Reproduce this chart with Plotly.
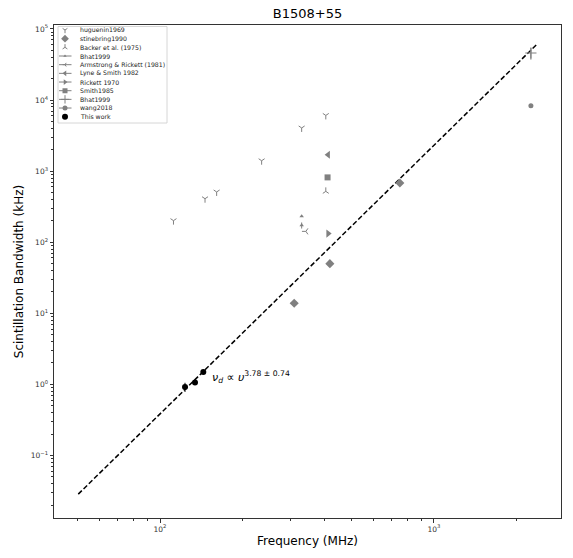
import math
import plotly.graph_objects as go

# ---- measurements: frequency (MHz) and scintillation bandwidth (kHz) ----
hug_freq = [112, 146, 161, 235, 329, 403]
hug_bw = [201, 409, 509, 1400, 4050, 6080]

stine_freq = [309, 417, 751]
stine_bw = [13.8, 49.9, 681]

backer_freq = [403]
backer_bw = [519]

bhat_freq = [329, 329]
bhat_bw = [231, 172.5]
bhat_err = [0, 17]

ar_freq = [341]
ar_bw = [142]

lyne_freq = [411]
lyne_bw = [1700]

rickett_freq = [411]
rickett_bw = [132]

smith_freq = [409]
smith_bw = [816]

bhat2_freq = [2260]
bhat2_bw = [45900]
bhat2_err_plus = [8100]
bhat2_err_minus = [8900]

wang_freq = [2260]
wang_bw = [8300]

this_freq = [123.4, 134.2, 143.9]
this_bw = [0.916, 1.06, 1.49]
this_err = [0.135, 0.05, 0.05]

# power-law fit: nu_d = A * f^alpha
fit_alpha = 3.78
fit_alpha_err = 0.74
fit_log_amp = -7.977
fit_freq = [50.3, 2388]

# tick labels
x_tick_exps = [2, 3]
x_tick_labels = ["10<sup>2</sup>", "10<sup>3</sup>"]
y_tick_exps = [-1, 0, 1, 2, 3, 4, 5]
y_tick_labels = ["10<sup>−1</sup>", "10<sup>0</sup>", "10<sup>1</sup>", "10<sup>2</sup>",
                 "10<sup>3</sup>", "10<sup>4</sup>", "10<sup>5</sup>"]

GRAY = "#808080"

fig = go.Figure()


def add_series(x, y, symbol, size, color=GRAY, lw=0, err=None, err_minus=None):
    ey = None
    if err is not None:
        ey = dict(type="data", array=err, arrayminus=err_minus if err_minus is not None else err,
                  visible=True, color=color, thickness=1, width=0)
    fig.add_trace(go.Scatter(
        x=x, y=y, mode="markers", showlegend=False,
        marker=dict(symbol=symbol, size=size, color=color,
                    line=dict(width=lw, color=color)),
        error_y=ey, xaxis="x", yaxis="y"))


# fitted power law
fit_y = [10 ** (fit_log_amp + fit_alpha * math.log10(f)) for f in fit_freq]
fig.add_trace(go.Scatter(x=fit_freq, y=fit_y, mode="lines", showlegend=False,
                         line=dict(color="black", width=1.5, dash="5px,2.4px")))

add_series(hug_freq, hug_bw, "y-down", 5, lw=1)
add_series(stine_freq, stine_bw, "diamond", 7)
add_series(backer_freq, backer_bw, "y-up", 5, lw=1)
add_series(bhat_freq, bhat_bw, "triangle-up", 4, err=bhat_err)
add_series(ar_freq, ar_bw, "y-left", 5, lw=1)
add_series(lyne_freq, lyne_bw, "triangle-left", 7)
add_series(rickett_freq, rickett_bw, "triangle-right", 7)
add_series(smith_freq, smith_bw, "square", 6)
add_series(bhat2_freq, bhat2_bw, "cross-thin", 8, lw=1.2, err=bhat2_err_plus, err_minus=bhat2_err_minus)
add_series(wang_freq, wang_bw, "circle", 5)
add_series(this_freq, this_bw, "circle", 6, color="black", err=this_err)

# ---- compact legend drawn on an auxiliary pixel-scaled axis ----
legend_items = [
    ("huguenin1969", "y-down", 4, GRAY, 1, False),
    ("stinebring1990", "diamond", 6, GRAY, 0, False),
    ("Backer et al. (1975)", "y-up", 4, GRAY, 1, False),
    ("Bhat1999", "triangle-up", 3, GRAY, 0, True),
    ("Armstrong & Rickett (1981)", "y-left", 3, GRAY, 1, True),
    ("Lyne & Smith 1982", "triangle-left", 5, GRAY, 0, True),
    ("Rickett 1970", "triangle-right", 5, GRAY, 0, True),
    ("Smith1985", "square", 5, GRAY, 0, True),
    ("Bhat1999", "cross-thin", 6, GRAY, 1, True),
    ("wang2018", "circle", 5, GRAY, 0, True),
    ("This work", "circle", 6, "black", 0, False),
]
leg_top = 30.0
leg_step = 8.67
for i, (name, sym, sz, col, lw, has_line) in enumerate(legend_items):
    yy = leg_top + i * leg_step
    if has_line:
        fig.add_trace(go.Scatter(x=[59, 71.5], y=[yy, yy], mode="lines", showlegend=False,
                                 line=dict(color=col, width=1), xaxis="x2", yaxis="y2",
                                 hoverinfo="skip"))
    fig.add_trace(go.Scatter(x=[65], y=[yy], mode="markers", showlegend=False,
                             marker=dict(symbol=sym, size=sz, color=col,
                                         line=dict(width=lw, color=col)),
                             xaxis="x2", yaxis="y2", hoverinfo="skip"))
    fig.add_annotation(x=77.5, y=yy, xref="x2", yref="y2", text=name, showarrow=False,
                       xanchor="left", yanchor="middle",
                       font=dict(family="DejaVu Sans", size=6.2, color="#222"))

fig.add_shape(type="rect", xref="x2", yref="y2", x0=58, x1=167, y0=26.5, y1=123,
              line=dict(color="#cccccc", width=0.8), fillcolor="white", layer="below")

# fit label
fig.add_annotation(x=math.log10(152.2), y=math.log10(1.28),
                   xref="x", yref="y", showarrow=False, xanchor="left", yanchor="middle",
                   text="<i>ν</i><sub><i>d</i></sub> ∝ <i>υ</i><sup>%.2f ± %.2f</sup>" % (fit_alpha, fit_alpha_err),
                   font=dict(family="DejaVu Sans", size=11, color="black"))

axis_common = dict(type="log", showgrid=False, zeroline=False, showline=True, mirror=True,
                   linecolor="#333", linewidth=1, ticks="outside", ticklen=3.5, tickwidth=0.8,
                   tickcolor="#333",
                   tickfont=dict(family="DejaVu Sans", size=7.5, color="#333"),
                   minor=dict(ticks="outside", ticklen=2, tickwidth=0.6, tickcolor="#333",
                              dtick="D1", showgrid=False))

fig.update_layout(
    width=573, height=558,
    margin=dict(l=54, r=12, t=25, b=40),
    paper_bgcolor="white", plot_bgcolor="rgba(0,0,0,0)",
    title=dict(text="B1508+55", x=0.5, xref="paper", y=1 - 13 / 558, yref="container",
               yanchor="middle", xanchor="center",
               font=dict(family="DejaVu Sans", size=13, color="black")),
    xaxis=dict(range=[1.613, 3.464], **axis_common,
               tickmode="array", tickvals=[10 ** e for e in x_tick_exps], ticktext=x_tick_labels,
               title=dict(text="Frequency (MHz)", standoff=4,
                          font=dict(family="DejaVu Sans", size=12, color="black"))),
    yaxis=dict(range=[-1.881, 5.056], **axis_common,
               tickmode="array", tickvals=[10 ** e for e in y_tick_exps], ticktext=y_tick_labels,
               title=dict(text="Scintillation Bandwidth (kHz)", standoff=4,
                          font=dict(family="DejaVu Sans", size=12, color="black"))),
    xaxis2=dict(domain=[0, 0.25], range=[54, 180.75], anchor="y2", visible=False, fixedrange=True),
    yaxis2=dict(domain=[0.75, 1.0], range=[148.25, 25], anchor="x2", visible=False, fixedrange=True),
)

fig.write_html("out.html")
